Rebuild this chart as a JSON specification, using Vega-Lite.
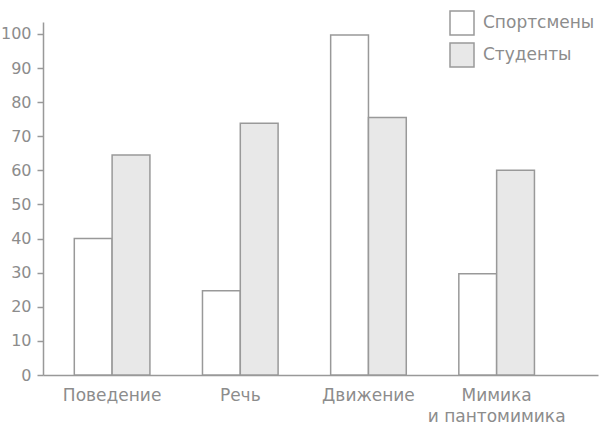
{
  "$schema": "https://vega.github.io/schema/vega-lite/v6.json",
  "width": 555,
  "height": 353,
  "autosize": {"type": "none"},
  "padding": {"left": 43, "top": 22, "right": 2, "bottom": 51},
  "background": "white",
  "config": {
    "view": {"stroke": null},
    "font": "DejaVu Sans",
    "axis": {"grid": false, "domainColor": "#999999", "domainWidth": 1.5, "tickColor": "#999999", "tickWidth": 1.5, "labelColor": "#8c8c8c", "labelFont": "DejaVu Sans", "labelFontSize": 16, "title": null},
    "legend": {"labelFont": "DejaVu Sans", "labelColor": "#8c8c8c", "labelFontSize": 17}
  },
  "data": {
    "values": [
      {"category": "Поведение", "group": "Спортсмены", "value": 40},
      {"category": "Поведение", "group": "Студенты", "value": 64.5},
      {"category": "Речь", "group": "Спортсмены", "value": 24.7},
      {"category": "Речь", "group": "Студенты", "value": 73.8},
      {"category": "Движение", "group": "Спортсмены", "value": 99.7},
      {"category": "Движение", "group": "Студенты", "value": 75.5},
      {"category": "Мимика и пантомимика", "group": "Спортсмены", "value": 29.7},
      {"category": "Мимика и пантомимика", "group": "Студенты", "value": 60}
    ]
  },
  "mark": {"type": "bar", "stroke": "#999999", "strokeWidth": 1.5},
  "encoding": {
    "x": {
      "field": "category", "type": "nominal",
      "sort": ["Поведение", "Речь", "Движение", "Мимика и пантомимика"],
      "scale": {"paddingInner": 0.41, "paddingOuter": 0.37, "align": 0.33},
      "axis": {"labelAngle": 0, "ticks": false, "labelPadding": 12, "labelFontSize": 17, "labelLineHeight": 21,
        "labelExpr": "datum.label == 'Мимика и пантомимика' ? ['Мимика', 'и пантомимика'] : datum.label"}
    },
    "xOffset": {"field": "group", "type": "nominal", "sort": ["Спортсмены", "Студенты"]},
    "y": {
      "field": "value", "type": "quantitative",
      "scale": {"domain": [0, 103.5], "nice": false},
      "axis": {"values": [0, 10, 20, 30, 40, 50, 60, 70, 80, 90, 100], "tickSize": 6, "labelPadding": 6}
    },
    "fill": {
      "field": "group", "type": "nominal",
      "scale": {"domain": ["Спортсмены", "Студенты"], "range": ["#ffffff", "#e8e8e8"]},
      "legend": {"title": null, "orient": "none", "legendX": 406, "legendY": -12, "symbolType": "square", "symbolSize": 576, "symbolStrokeColor": "#999999", "symbolStrokeWidth": 1.5, "rowPadding": 2, "labelOffset": 8, "padding": 0}
    }
  }
}
